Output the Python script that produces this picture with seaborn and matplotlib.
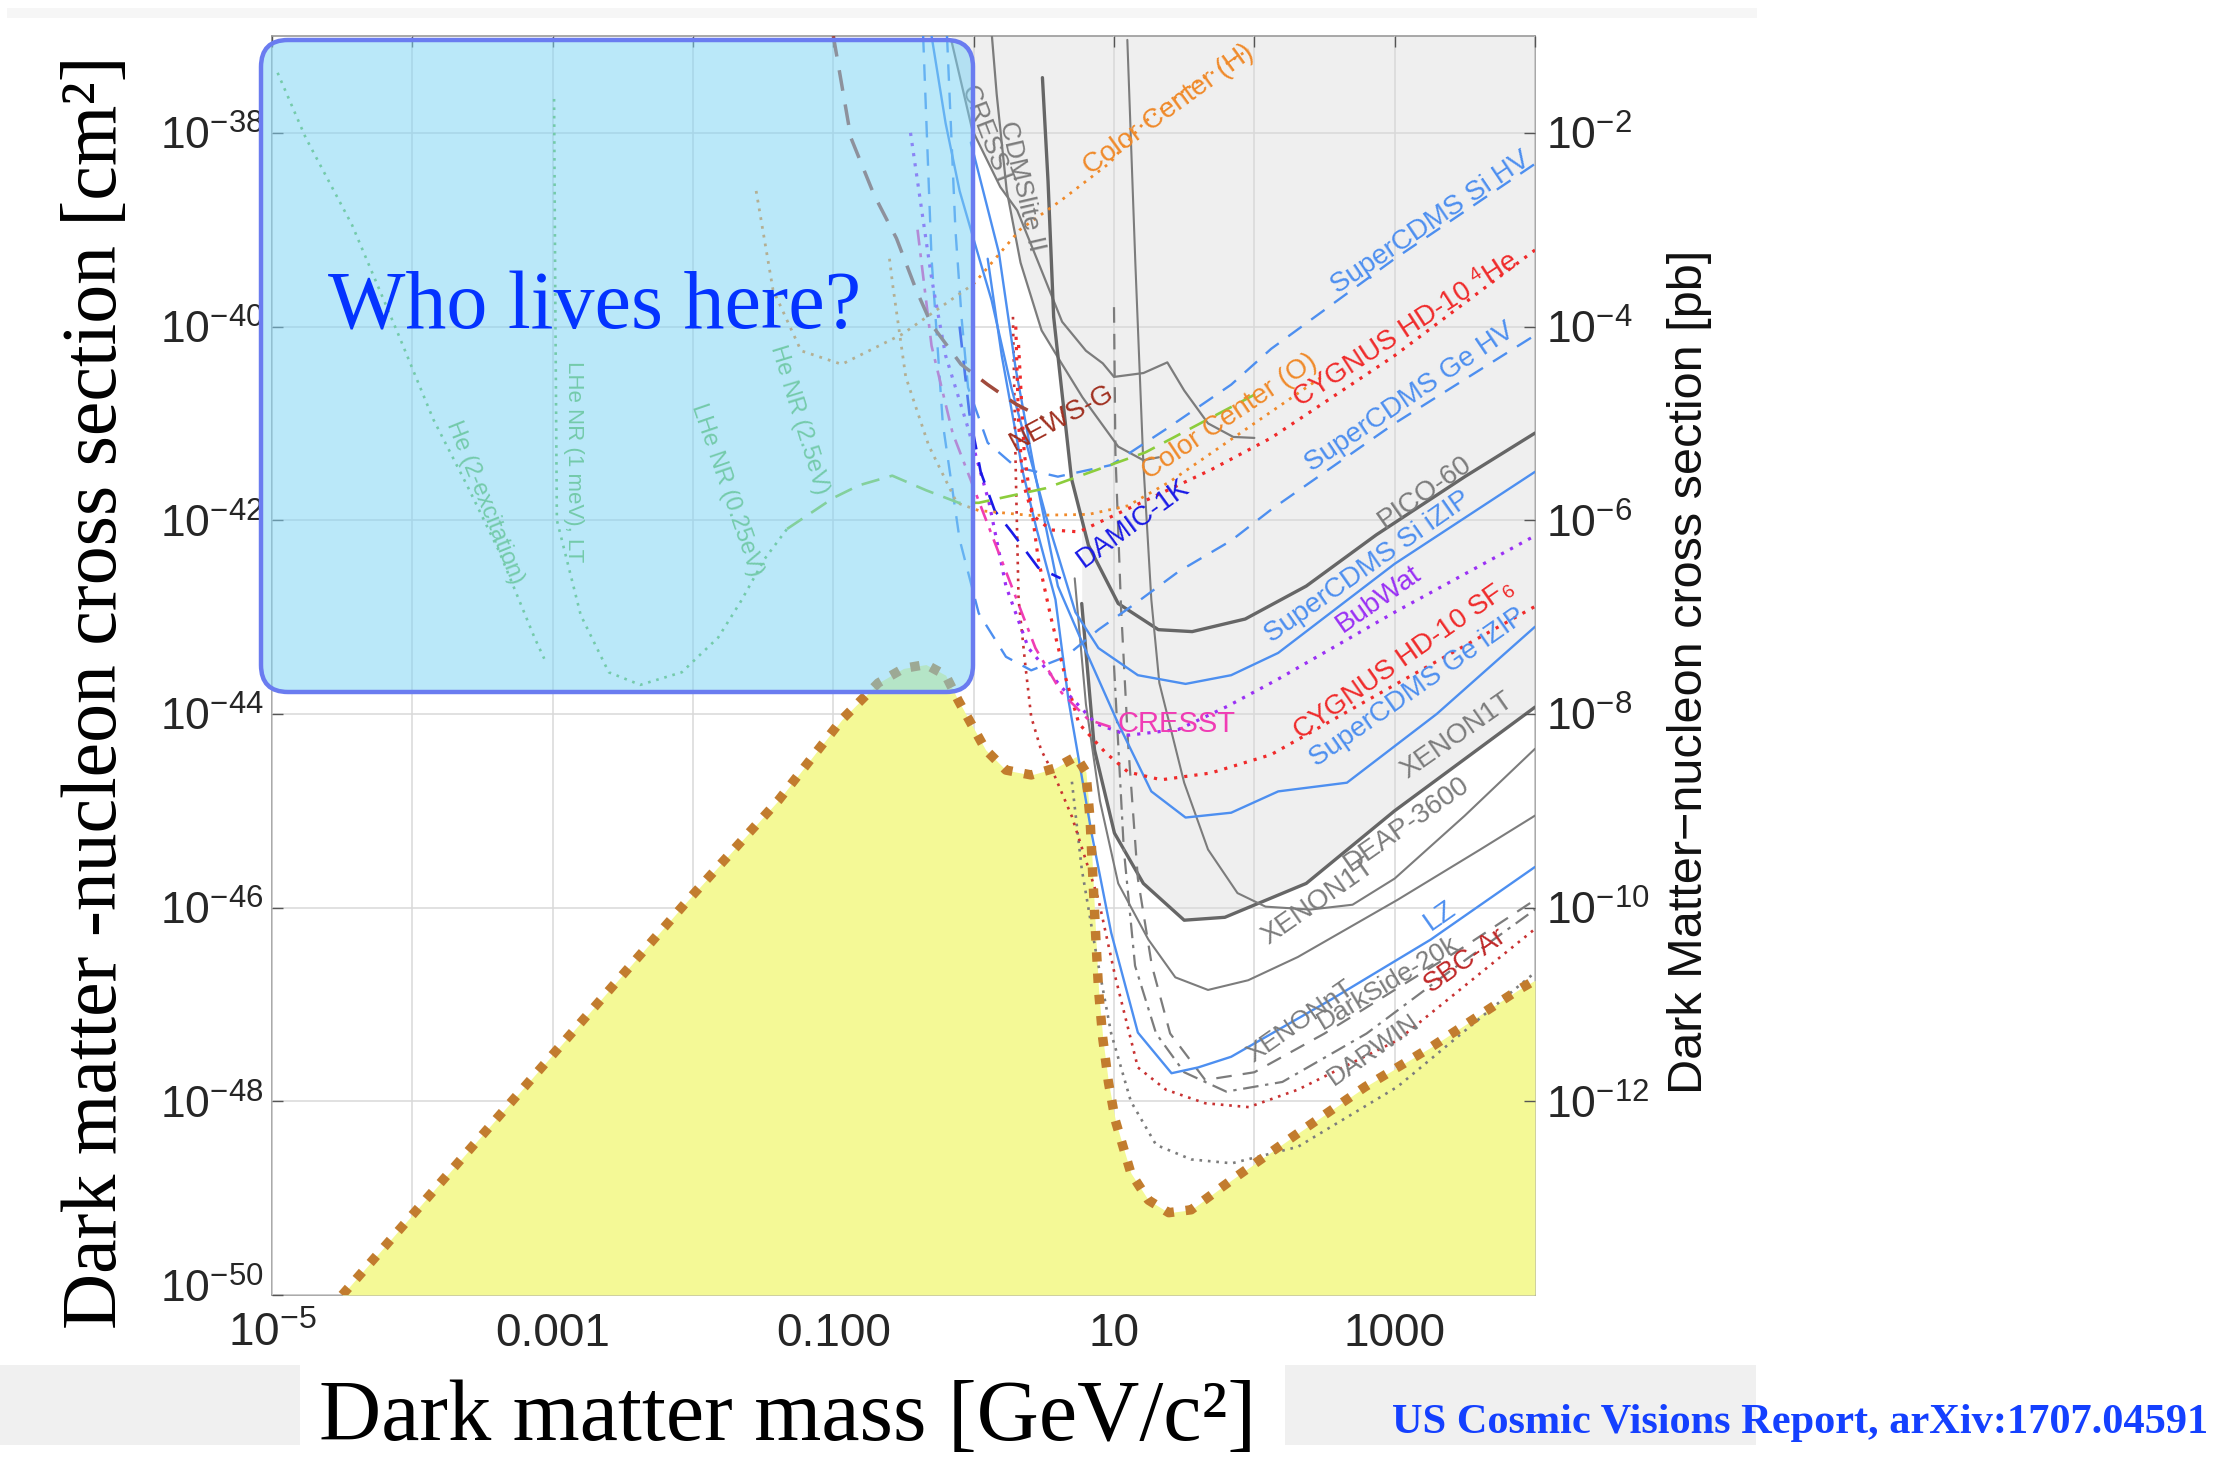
import numpy as np
import matplotlib
matplotlib.use("Agg")
import matplotlib.pyplot as plt
import matplotlib.transforms as mtransforms
from matplotlib.patches import FancyBboxPatch, Rectangle
from matplotlib.ticker import FixedLocator, FixedFormatter, NullLocator
import seaborn as sns

sns.set_theme(style="white")
plt.rcParams["font.family"] = ["Liberation Sans", "DejaVu Sans"]
plt.rcParams["mathtext.fontset"] = "custom"
plt.rcParams["mathtext.rm"] = "Liberation Sans"
plt.rcParams["mathtext.it"] = "Liberation Sans:italic"
plt.rcParams["mathtext.bf"] = "Liberation Sans:bold"

# ---------------- curves: log10(mass [GeV]) and log10(sigma [cm^2]) ----------------
# neutrino floor
floor_lm = [-4.5, -2.04, -1.39, -0.94, -0.68, -0.50, -0.34, -0.20, -0.11, 0.085, 0.23, 0.41,
            0.58, 0.73, 0.80, 0.83, 0.85, 0.87, 0.89, 0.92, 0.96, 1.01, 1.12, 1.245, 1.39,
            1.55, 1.84, 2.31, 2.79, 3.26, 3.88, 4.0]
floor_ls = [-50.0, -45.93, -44.89, -44.06, -43.68, -43.53, -43.49, -43.6, -43.86, -44.37, -44.58, -44.63,
            -44.56, -44.44, -44.6, -45.1, -45.7, -46.3, -46.85, -47.35, -47.8, -48.2, -48.74, -49.02, -49.15,
            -49.12, -48.81, -48.33, -47.85, -47.44, -46.85, -46.75]

# current limits
cresst_lm = [-0.16, -0.01, 0.19, 0.31, 0.45, 0.63, 0.8, 0.92, 1.0, 1.21, 1.38, 1.5, 1.67, 1.85, 2.0]
cresst_ls = [-37.04, -37.97, -38.56, -38.8, -39.3, -39.95, -40.25, -40.38, -40.52, -40.48, -40.37,
             -40.66, -41.0, -41.14, -41.15]
cdmslite_lm = [0.13, 0.164, 0.235, 0.334, 0.484, 0.626, 0.775, 1.03, 1.209, 1.32]
cdmslite_ls = [-37.0, -37.6, -38.59, -39.34, -40.04, -40.38, -40.73, -41.24, -41.38, -41.35]
pico_lm = [0.49, 0.53, 0.57, 0.626, 0.697, 0.818, 1.03, 1.316, 1.557, 1.935, 2.37, 2.87, 3.5, 4.0]
pico_ls = [-37.43, -38.5, -39.9, -40.64, -41.57, -42.26, -42.86, -43.13, -43.15, -43.02, -42.68,
           -42.15, -41.55, -41.1]
xe1t_lm = [0.77, 0.861, 1.003, 1.209, 1.50, 1.79, 2.37, 3.0, 4.0]
xe1t_ls = [-42.86, -44.37, -45.23, -45.75, -46.13, -46.10, -45.75, -45.0, -43.93]

# projections (gray)
deap_lm = [1.095, 1.152, 1.209, 1.266, 1.323, 1.50, 1.67, 1.88, 2.08, 2.4, 2.7, 3.0, 3.5, 4.0]
deap_ls = [-37.04, -39.34, -41.41, -42.82, -43.68, -44.71, -45.4, -45.85, -45.99, -46.02, -45.97,
           -45.7, -45.05, -44.36]
xe1tp_lm = [0.72, 0.8, 0.9, 1.03, 1.245, 1.437, 1.67, 1.956, 2.31, 3.02, 3.61, 4.0]
xe1tp_ls = [-42.6, -43.9, -44.9, -45.75, -46.33, -46.72, -46.85, -46.75, -46.51, -45.92, -45.40, -45.05]
xennt_lm = [1.0, 1.01, 1.05, 1.1, 1.17, 1.27, 1.4, 1.65, 2.0, 2.5, 3.0, 3.5, 4.0]
xennt_ls = [-39.8, -41.3, -42.9, -44.3, -45.7, -46.6, -47.3, -47.78, -47.7, -47.3, -46.85, -46.4, -45.92]
ds20k_lm = [1.0, 1.07, 1.15, 1.3, 1.5, 1.8, 2.2, 2.8, 3.4, 4.0]
ds20k_ls = [-43.5, -45.4, -46.6, -47.3, -47.7, -47.9, -47.8, -47.3, -46.65, -46.02]
darwin_lm = [0.7, 0.77, 0.87, 0.98, 1.12, 1.3, 1.55, 1.84, 2.31, 3.02, 4.0]
darwin_ls = [-44.7, -45.6, -46.45, -47.3, -48.0, -48.45, -48.6, -48.64, -48.47, -47.85, -46.67]

# projections (coloured)
lz_lm = [0.1, 0.2, 0.35, 0.45, 0.583, 0.676, 0.84, 0.98, 1.17, 1.41, 1.6, 1.835, 2.546, 3.257, 4.0]
lz_ls = [-39.3, -40.3, -41.5, -42.1, -42.82, -43.86, -45.23, -46.26, -47.29, -47.71, -47.65, -47.54,
         -46.95, -46.33, -45.58]
sbc_lm = [0.28, 0.30, 0.32, 0.37, 0.41, 0.48, 0.58, 0.70, 0.89, 1.01, 1.17, 1.37, 1.65, 1.96, 2.31, 3.02, 4.0]
sbc_ls = [-39.9, -41.5, -42.82, -43.52, -44.03, -44.37, -44.65, -45.06, -45.92, -46.72, -47.65, -47.88,
          -48.02, -48.06, -47.88, -47.37, -46.22]
si_hv_lm = [-0.19, -0.13, -0.085, -0.04, 0.1, 0.3, 0.6, 0.98, 1.37, 1.835, 2.12, 3.0, 4.0]
si_hv_ls = [-37.0, -39.0, -39.93, -40.63, -41.2, -41.45, -41.55, -41.43, -41.06, -40.6, -40.23, -39.3, -38.32]
ge_hv_lm = [-0.36, -0.3, -0.22, -0.1, 0.036, 0.23, 0.41, 0.654, 0.889, 1.152, 1.46, 1.835, 2.12, 3.0, 4.0]
ge_hv_ls = [-37.0, -39.3, -41.0, -42.2, -42.96, -43.41, -43.55, -43.41, -43.13, -42.86, -42.53, -42.21,
            -41.89, -41.0, -40.09]
si_izip_lm = [-0.3, -0.2, -0.1, 0.0, 0.128, 0.27, 0.512, 0.725, 0.889, 1.17, 1.51, 1.835, 2.17, 3.0, 4.0]
si_izip_ls = [-37.0, -37.9, -38.6, -39.1, -39.73, -40.64, -41.94, -42.95, -43.32, -43.60, -43.69, -43.60,
              -43.37, -42.45, -41.5]
ge_izip_lm = [-0.02, 0.18, 0.30, 0.44, 0.60, 0.818, 1.03, 1.266, 1.51, 1.835, 2.17, 2.66, 3.3, 4.0]
ge_izip_ls = [-38.1, -39.24, -40.44, -41.54, -42.68, -43.41, -44.10, -44.80, -45.07, -45.02, -44.80,
              -44.71, -44.0, -43.1]
cyg_he_lm = [0.30, 0.32, 0.35, 0.42, 0.55, 0.75, 1.22, 1.69, 2.12, 3.0, 4.0]
cyg_he_ls = [-40.0, -41.0, -41.6, -41.95, -42.1, -42.12, -41.8, -41.48, -41.15, -40.3, -39.21]
cyg_sf6_lm = [0.32, 0.36, 0.46, 0.55, 0.65, 0.75, 0.94, 1.10, 1.337, 1.69, 2.12, 3.0, 4.0]
cyg_sf6_ls = [-40.19, -41.3, -42.4, -43.0, -43.6, -44.1, -44.4, -44.6, -44.68, -44.61, -44.42, -43.7, -42.89]
bubwat_lm = [-0.45, -0.3, -0.2, -0.05, 0.107, 0.23, 0.39, 0.63, 0.87, 1.10, 1.46, 1.81, 2.17, 3.0, 4.0]
bubwat_ls = [-38.0, -39.5, -40.3, -41.0, -41.8, -42.68, -43.32, -43.73, -44.1, -44.22, -44.16, -43.92,
             -43.64, -42.95, -42.16]
cresst_p_lm = [-0.4, -0.3, -0.15, 0.036, 0.27, 0.44, 0.626, 0.818, 1.03]
cresst_p_ls = [-39.0, -40.2, -41.1, -41.8, -42.68, -43.32, -43.78, -44.06, -44.16]
damic_lm = [-0.1, -0.03, 0.05, 0.15, 0.27, 0.46, 0.62]
damic_ls = [-40.0, -40.9, -41.5, -41.9, -42.12, -42.49, -42.6]
newsg_lm = [-1.0, -0.875, -0.71, -0.55, -0.41, -0.3, -0.09, 0.1, 0.3, 0.5]
newsg_ls = [-37.0, -38.05, -38.64, -39.09, -39.62, -39.98, -40.39, -40.6, -40.8, -40.95]
cc_h_lm = [-1.55, -1.43, -1.23, -0.94, -0.51, 0.0, 0.33, 0.63, 0.97, 1.21, 1.5, 1.96]
cc_h_ls = [-38.6, -39.62, -40.25, -40.39, -40.08, -39.56, -39.0, -38.69, -38.31, -37.9, -37.56, -37.14]
cc_o_lm = [-0.6, -0.576, -0.484, -0.32, -0.12, 0.036, 0.4, 0.818, 1.1, 1.4, 1.8, 2.2, 2.5]
cc_o_ls = [-39.3, -39.58, -40.52, -41.23, -41.82, -41.9, -41.95, -41.94, -41.85, -41.6, -41.2, -40.8, -40.5]
sfhe_lm = [-1.33, -1.0, -0.818, -0.58, -0.34, -0.107, 0.036, 0.512, 1.223, 2.006]
sfhe_ls = [-42.09, -41.77, -41.64, -41.54, -41.69, -41.82, -41.82, -41.67, -41.3, -40.7]
he_exc_lm = [-4.96, -4.76, -4.43, -4.10, -3.85, -3.61, -3.385, -3.13, -3.06]
he_exc_ls = [-37.38, -38.05, -38.95, -40.08, -40.96, -41.64, -42.31, -43.21, -43.43]
lhe_nr_lm = [-2.99, -2.98, -2.97, -2.80, -2.60, -2.376, -2.08, -1.82, -1.66, -1.49, -1.33]
lhe_nr_ls = [-37.65, -40.0, -42.0, -42.98, -43.57, -43.70, -43.57, -43.21, -42.84, -42.40, -42.09]

# axis ticks
x_tick_exp = [-5, -4, -3, -2, -1, 0, 1, 2, 3, 4]
x_tick_labels = [r"$10^{-5}$", "", "0.001", "", "0.100", "", "10", "", "1000", ""]
y_tick_exp = [-50, -48, -46, -44, -42, -40, -38]
pb_tick_exp = [-12, -10, -8, -6, -4, -2]

# ---------------- figure ----------------
W, H = 2238, 1459
fig = plt.figure(figsize=(W / 100, H / 100), dpi=100)
fig.patch.set_facecolor("white")
# pixel coordinates measured from the top-left corner
px = mtransforms.Affine2D().scale(1 / W, -1 / H).translate(0, 1) + fig.transFigure

ax = fig.add_axes([272 / W, 1 - 1295 / H, (1535 - 272) / W, (1295 - 36) / H])
ax.set_xscale("log")
ax.set_yscale("log")
ax.set_xlim(1e-5, 1e4)
ax.set_ylim(1e-50, 1e-37)
ax.set_facecolor("white")


def P(v):
    return 10.0 ** np.asarray(v, dtype=float)


# excluded region above current limits
for lm, ls in [(cresst_lm, cresst_ls), (cdmslite_lm, cdmslite_ls), (pico_lm, pico_ls), (xe1t_lm, xe1t_ls)]:
    ax.fill_between(P(lm), P(ls), 1e-37, color="#efefef", lw=0, zorder=1)

# neutrino floor region
ax.fill_between(P(floor_lm), 1e-50, P(floor_ls), color="#f4f996", lw=0, zorder=2.7)


def curve(lm, ls, color, style="-", lw=1.6, z=3.5):
    sns.lineplot(x=P(lm), y=P(ls), sort=False, estimator=None, ax=ax, color=color,
                 linestyle=style, linewidth=lw, zorder=z, legend=False)


GRAY = "#7c7c7c"
DGRAY = "#666666"
BLUE = "#4d8ff0"
RED = "#f02a2a"
ORANGE = "#f08a2a"

DOT = (0, (1, 2.2))
DASH = (0, (7, 5))

curve(cresst_lm, cresst_ls, GRAY, "-", 1.6)
curve(cdmslite_lm, cdmslite_ls, GRAY, "-", 1.6)
curve(pico_lm, pico_ls, DGRAY, "-", 2.4)
curve(xe1t_lm, xe1t_ls, DGRAY, "-", 2.4)
curve(deap_lm, deap_ls, GRAY, "-", 1.5)
curve(xe1tp_lm, xe1tp_ls, GRAY, "-", 1.5)
curve(xennt_lm, xennt_ls, GRAY, DASH, 1.6)
curve(ds20k_lm, ds20k_ls, GRAY, (0, (7, 3, 1.5, 3)), 1.6)
curve(darwin_lm, darwin_ls, GRAY, DOT, 1.9)

curve(lz_lm, lz_ls, BLUE, "-", 1.7)
curve(sbc_lm, sbc_ls, "#c83232", DOT, 1.9)
curve(si_hv_lm, si_hv_ls, BLUE, DASH, 1.7)
curve(ge_hv_lm, ge_hv_ls, BLUE, DASH, 1.7)
curve(si_izip_lm, si_izip_ls, BLUE, "-", 1.7)
curve(ge_izip_lm, ge_izip_ls, BLUE, "-", 1.7)
curve(cyg_he_lm, cyg_he_ls, RED, DOT, 2.3)
curve(cyg_sf6_lm, cyg_sf6_ls, RED, DOT, 2.3)
curve(bubwat_lm, bubwat_ls, "#9a30f5", DOT, 2.3)
curve(cresst_p_lm, cresst_p_ls, "#f03cb4", (0, (6, 3, 1.5, 3)), 1.9)
curve(damic_lm, damic_ls, "#1a1ae6", (0, (8, 5)), 1.9)
curve(newsg_lm, newsg_ls, "#a04a3c", (0, (6, 4)), 2.5)
curve(cc_h_lm, cc_h_ls, ORANGE, DOT, 2.0)
curve(cc_o_lm, cc_o_ls, ORANGE, DOT, 2.0)
curve(sfhe_lm, sfhe_ls, "#8ccd3c", (0, (7, 4)), 1.9)
curve(he_exc_lm, he_exc_ls, "#6cc25a", DOT, 1.9)
curve(lhe_nr_lm, lhe_nr_ls, "#6cc25a", DOT, 1.9)

# neutrino floor boundary
curve(floor_lm, floor_ls, "#c27c2e", (0, (1, 1.25)), 6.8, z=4.5)

# ---------------- labels on curves ----------------
labels = [
    ("Color Center (H)", 1.387, -37.76, 36, ORANGE, 20),
    ("SuperCDMS Si HV", 3.257, -38.93, 34, BLUE, 20),
    ("CYGNUS HD-10 $^{4}$He", 3.08, -40.04, 33, RED, 20),
    ("SuperCDMS Ge HV", 3.108, -40.73, 34, BLUE, 20),
    ("Color Center (O)", 1.828, -40.93, 34, ORANGE, 20),
    ("NEWS-G", 0.626, -40.94, 28, "#a03020", 20),
    ("DAMIC-1K", 1.138, -42.03, 36, "#1a1ae6", 20),
    ("PICO-60", 3.215, -41.71, 35, GRAY, 20),
    ("SuperCDMS Si iZIP", 2.81, -42.48, 35, BLUE, 20),
    ("BubWat", 2.888, -42.82, 35, "#9a30f5", 20),
    ("CYGNUS HD-10 SF$_{6}$", 3.065, -43.44, 35, RED, 20),
    ("SuperCDMS Ge iZIP", 3.165, -43.73, 35, BLUE, 20),
    ("CRESST", 1.444, -44.10, 0, "#f03cb4", 21),
    ("XENON1T", 3.442, -44.22, 35, GRAY, 20),
    ("DEAP-3600", 3.087, -45.14, 35, GRAY, 20),
    ("XENON1T", 2.454, -45.94, 35, GRAY, 20),
    ("LZ", 3.32, -46.09, 35, BLUE, 20),
    ("XENONnT", 2.326, -47.18, 35, GRAY, 19),
    ("DarkSide-20k", 2.95, -46.78, 31, GRAY, 19),
    ("SBC-Ar", 3.506, -46.54, 35, "#c02828", 20),
    ("DARWIN", 2.845, -47.47, 35, GRAY, 19),
    ("CRESST", 0.092, -38.04, -69, GRAY, 19),
    ("CDMSlite II", 0.341, -38.55, -77, GRAY, 19),
    ("He (2-excitation)", -3.485, -41.82, -68, "#6cc25a", 17),
    ("LHe NR (1 meV), LT", -2.852, -41.4, -90, "#6cc25a", 16),
    ("LHe NR (0.25eV)", -1.757, -41.69, -71, "#6cc25a", 17),
    ("He NR (2.5eV)", -1.245, -40.96, -73, "#6cc25a", 17),
]
for text, lm, ls, rot, col, size in labels:
    ax.text(10.0 ** lm, 10.0 ** ls, text, rotation=rot, color=col, fontsize=size,
            ha="center", va="center", rotation_mode="anchor", zorder=6)

# ---------------- axes styling ----------------
ax.set_axisbelow(False)
ax.xaxis.set_major_locator(FixedLocator(P(x_tick_exp)))
ax.xaxis.set_major_formatter(FixedFormatter(x_tick_labels))
ax.xaxis.set_minor_locator(NullLocator())
ax.yaxis.set_major_locator(FixedLocator(P(y_tick_exp)))
ax.yaxis.set_major_formatter(FixedFormatter([r"$10^{%d}$" % e for e in y_tick_exp]))
ax.yaxis.set_minor_locator(NullLocator())
ax.grid(True, which="major", color="#d8d8d8", lw=1.1)
ax.tick_params(axis="x", direction="in", length=8, width=1, color="#555555",
               labelsize=33, pad=12, top=True)
ax.tick_params(axis="y", direction="in", length=8, width=1, color="#555555",
               labelsize=32, pad=6)
# lift the lowest y label a little so it clears the first mass label
low_tick = ax.yaxis.get_major_ticks()[0]
low_tick.label1.set_transform(low_tick.label1.get_transform()
                              + mtransforms.ScaledTranslation(0, 7 / 72, fig.dpi_scale_trans))
for s in ax.spines.values():
    s.set_color("#9a9a9a")
    s.set_linewidth(1.2)
ax.set_xlabel("")
ax.set_ylabel("")

ax2 = ax.twinx()
ax2.set_yscale("log")
ax2.set_ylim(1e-14, 1e-1)
ax2.yaxis.set_major_locator(FixedLocator(P(pb_tick_exp)))
ax2.yaxis.set_major_formatter(FixedFormatter([r"$10^{%d}$" % e for e in pb_tick_exp]))
ax2.yaxis.set_minor_locator(NullLocator())
ax2.tick_params(axis="y", direction="in", length=8, width=1, color="#555555",
                labelsize=32, pad=8)
for s in ax2.spines.values():
    s.set_visible(False)

# ---------------- page decorations ----------------
fig.add_artist(Rectangle((7, 8), 1750, 10, transform=px, color="#f6f6f6", lw=0, zorder=0.5))
fig.add_artist(Rectangle((0, 1365), 300, 80, transform=px, color="#f0f0f0", lw=0, zorder=0.5))
fig.add_artist(Rectangle((1285, 1365), 471, 80, transform=px, color="#f0f0f0", lw=0, zorder=0.5))

# highlighted region
fig.add_artist(FancyBboxPatch((261, 40), 712, 652, transform=px,
                              boxstyle="round,pad=0,rounding_size=27",
                              facecolor="#7cd3f5", alpha=0.52, edgecolor="none", zorder=10))
fig.add_artist(FancyBboxPatch((261, 40), 712, 652, transform=px,
                              boxstyle="round,pad=0,rounding_size=27",
                              facecolor="none", edgecolor="#6a7cf0", lw=3.2, zorder=10.5))
fig.text(595 / W, 1 - 329 / H, "Who lives here?", family="Liberation Serif", fontsize=59,
         color="#0433ff", ha="center", va="baseline", zorder=11)

# axis titles
fig.text(97 / W, 1 - 692 / H, "Dark matter -nucleon cross section [cm²]", family="Liberation Serif",
         fontsize=56, rotation=90, ha="center", va="center", color="black")
fig.text(1690 / W, 1 - 672 / H, "Dark Matter\u2212nucleon cross section [pb]", family="Liberation Sans",
         fontsize=35, rotation=90, ha="center", va="center", color="#111111")
fig.text(788 / W, 1 - 1440 / H, "Dark matter mass [GeV/c²]", family="Liberation Serif",
         fontsize=62, ha="center", va="baseline", color="black", zorder=2)
fig.text(1392 / W, 1 - 1433 / H, "US Cosmic Visions Report, arXiv:1707.04591", family="Liberation Serif",
         fontsize=30.5, fontweight="bold", ha="left", va="baseline", color="#1440ff")

fig.savefig("out.png", dpi=100)
